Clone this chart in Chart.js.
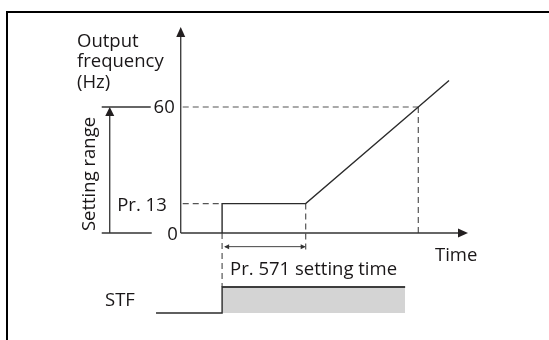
<!DOCTYPE html>
<html><head><meta charset="utf-8">
<script src="https://cdn.jsdelivr.net/npm/chart.js@4/dist/chart.umd.min.js"></script>
<style>html,body{margin:0;padding:0;background:#fff;overflow:hidden;} canvas{display:block;}</style>
</head><body>
<canvas id="c" width="549" height="340"></canvas>
<script>
// ---- data (time in arbitrary units, frequency in Hz) ----
const outTime = [14.4, 14.4, 43.5, 82.7, 93.4];
const outHz   = [0, 14, 14, 60, 72.6];
const stfTime  = [-8.6, 14.4, 14.4, 78.1];
const stfLevel = [0, 0, 1, 1];
const stfOnTime = [14.4, 78.1];
const tickValues = [0, 14, 60];
const tickLabels = ['0', 'Pr. 13', '60'];
const settingStart = 14.4, settingEnd = 43.5, reach60 = 82.7;
const axisTitleLines = ['Output', 'frequency', '(Hz)'];
const rangeLabel = 'Setting range';
const timeLabel = 'Time';
const settingTimeLabel = 'Pr. 571 setting time';
const stfLabel = 'STF';

const FONT = '18.5px "Open Sans", "Noto Sans", sans-serif';
const TXT = '#1a1718';

const pts = (xs, ys) => xs.map((x, i) => ({x, y: ys[i]}));

function arrowHead(ctx, tx, ty, dir, len, half) {
  ctx.beginPath();
  if (dir === 'up') { ctx.moveTo(tx, ty); ctx.lineTo(tx - half, ty + len); ctx.lineTo(tx + half, ty + len); }
  if (dir === 'right') { ctx.moveTo(tx, ty); ctx.lineTo(tx - len, ty - half); ctx.lineTo(tx - len, ty + half); }
  if (dir === 'left') { ctx.moveTo(tx, ty); ctx.lineTo(tx + len, ty - half); ctx.lineTo(tx + len, ty + half); }
  ctx.closePath(); ctx.fill();
}
function seg(ctx, x1, y1, x2, y2) { ctx.beginPath(); ctx.moveTo(x1, y1); ctx.lineTo(x2, y2); ctx.stroke(); }

const diagram = {
  id: 'diagram',
  beforeDatasetsDraw(chart) {
    const ctx = chart.ctx, ca = chart.chartArea;
    const xs = chart.scales.x, ys = chart.scales.y, ss = chart.scales.sig;
    const x0 = xs.getPixelForValue(0), y0 = ys.getPixelForValue(0);
    ctx.save();
    // frame
    ctx.fillStyle = '#000';
    ctx.fillRect(6, 11, 2, chart.height - 11);
    ctx.fillRect(6, 11, chart.width - 6, 2);
    // dashed guides
    ctx.strokeStyle = '#555'; ctx.lineWidth = 1.2; ctx.setLineDash([6, 4]);
    const y60 = ys.getPixelForValue(60), y13 = ys.getPixelForValue(tickValues[1]);
    const xr = xs.getPixelForValue(reach60), xs1 = xs.getPixelForValue(settingStart), xs2 = xs.getPixelForValue(settingEnd);
    seg(ctx, x0 + 2, y60, xr, y60);
    seg(ctx, xr, y60, xr, y0);
    seg(ctx, x0 + 2, y13, xs1, y13);
    seg(ctx, xs2, y13, xs2, ys.getPixelForValue(-8.6));
    seg(ctx, xs1, y0, xs1, ss.getPixelForValue(1));
    ctx.setLineDash([]);
    // axes
    ctx.strokeStyle = '#333'; ctx.lineWidth = 1.3; ctx.fillStyle = '#231f20';
    seg(ctx, x0, ca.top + 8, x0, y0);
    arrowHead(ctx, x0, ca.top, 'up', 10, 4.5);
    seg(ctx, x0, y0, ca.right - 8, y0);
    arrowHead(ctx, ca.right, y0, 'right', 10, 4.5);
    // setting range bracket
    seg(ctx, x0 - 79, y60, x0 - 30, y60);
    seg(ctx, x0 - 79, y0, x0 - 29, y0);
    seg(ctx, x0 - 71, y0, x0 - 71, y60 + 8);
    arrowHead(ctx, x0 - 71, y60, 'up', 9, 4.5);
    // Pr.571 setting time double arrow
    const ya = ys.getPixelForValue(-6.5);
    ctx.strokeStyle = '#444'; ctx.lineWidth = 1; ctx.fillStyle = '#333';
    seg(ctx, xs1 + 3, ya, xs2 - 1, ya);
    arrowHead(ctx, xs1 + 2, ya, 'left', 5, 2.5);
    arrowHead(ctx, xs2, ya, 'right', 5, 2.5);
    ctx.restore();
  },
  afterDatasetsDraw(chart) {
    const ctx = chart.ctx;
    const xs = chart.scales.x, ys = chart.scales.y, ss = chart.scales.sig;
    const x0 = xs.getPixelForValue(0), y0 = ys.getPixelForValue(0);
    ctx.save();
    ctx.font = FONT; ctx.fillStyle = TXT;
    // title
    ctx.textAlign = 'left'; ctx.textBaseline = 'alphabetic';
    [47, 67, 88].forEach((b, i) => ctx.fillText(axisTitleLines[i], 77, b));
    // tick labels
    ctx.textAlign = 'right'; ctx.textBaseline = 'middle';
    ctx.fillText(tickLabels[2], x0 - 6, ys.getPixelForValue(tickValues[2]) + 1);
    ctx.fillText(tickLabels[1], x0 - 14, ys.getPixelForValue(tickValues[1]) + 2);
    ctx.fillText(tickLabels[0], x0 - 3, y0 + 2);
    // Time
    ctx.textAlign = 'left';
    ctx.fillText(timeLabel, 435, y0 + 23);
    // Pr.571 setting time
    ctx.fillText(settingTimeLabel, xs.getPixelForValue(settingStart) + 8, y0 + 37);
    // STF
    ctx.fillText(stfLabel, 105, (ss.getPixelForValue(0) + ss.getPixelForValue(1)) / 2 + 1);
    // setting range rotated
    ctx.translate(95, (ys.getPixelForValue(0) + ys.getPixelForValue(60)) / 2 + 4);
    ctx.rotate(-Math.PI / 2);
    ctx.textAlign = 'center'; ctx.textBaseline = 'alphabetic';
    ctx.fillText(rangeLabel, 0, 0);
    ctx.restore();
  }
};

new Chart(document.getElementById('c'), {
  type: 'scatter',
  data: {
    datasets: [
      { data: pts(outTime, outHz), yAxisID: 'y', showLine: true, borderColor: '#2b2b2b', borderWidth: 1.4,
        pointRadius: 0, tension: 0, clip: false, order: 0 },
      { data: pts(stfTime, stfLevel), yAxisID: 'sig', showLine: true, borderColor: '#2b2b2b', borderWidth: 1.4,
        pointRadius: 0, tension: 0, clip: false, order: 0 },
      { data: pts(stfOnTime, [1, 1]), yAxisID: 'sig', showLine: true, borderColor: '#555', borderWidth: 1.6,
        backgroundColor: '#d4d4d4', fill: {value: 0}, pointRadius: 0, tension: 0, clip: false, order: 1 }
    ]
  },
  options: {
    responsive: false, animation: false, devicePixelRatio: 1,
    layout: { padding: { left: 152, right: 81, top: 27, bottom: 27 } },
    plugins: { legend: { display: false }, tooltip: { enabled: false } },
    scales: {
      x: { type: 'linear', min: -10, max: 100, display: false },
      y: { type: 'linear', min: -38.1, max: 98.1, display: false },
      sig: { type: 'linear', min: 0, max: 11, display: false, position: 'left' }
    }
  },
  plugins: [diagram]
});
</script>
</body></html>
